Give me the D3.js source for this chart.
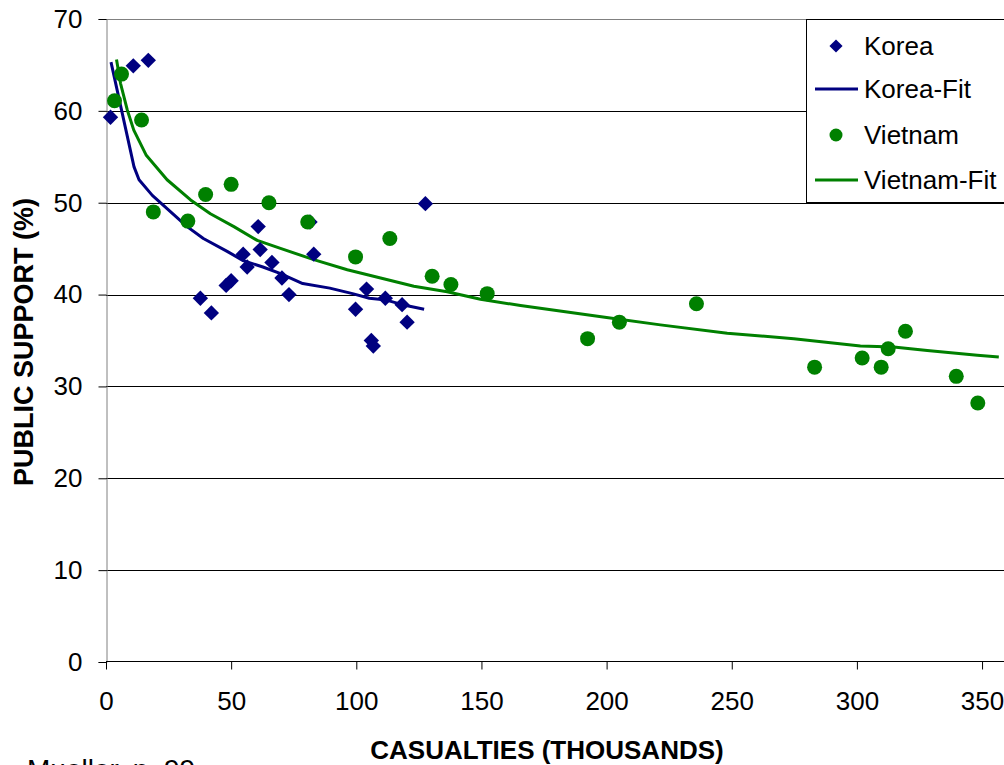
<!DOCTYPE html>
<html><head><meta charset="utf-8">
<script src="https://cdn.jsdelivr.net/npm/d3@7"></script>
<style>html,body{margin:0;padding:0;background:#fff;overflow:hidden}svg{display:block;font-family:"Liberation Sans",Arial,sans-serif}</style>
</head><body>
<script>
// Data
const koreaX = [1.8, 10.9, 16.9, 37.7, 42.1, 48.0, 50.0, 54.8, 56.4, 60.8, 61.6, 66.3, 70.3, 73.1, 81.5, 83.0, 99.7, 104.1, 106.0, 106.8, 111.6, 118.3, 120.3, 127.6];
const koreaY = [59.3, 64.9, 65.5, 39.6, 38.0, 41.0, 41.5, 44.4, 43.0, 47.4, 44.9, 43.5, 41.8, 40.0, 47.9, 44.4, 38.4, 40.6, 35.0, 34.4, 39.6, 38.9, 37.0, 49.9];
const koreaFitX = [2, 11.2, 13.2, 18.5, 32.4, 38.9, 48.4, 54.8, 62.7, 69.5, 78.6, 89.4, 98.5, 105.2, 112, 119.9, 127.1];
const koreaFitY = [65.3, 53.9, 52.5, 50.8, 47.4, 46.1, 44.7, 43.7, 43.0, 42.3, 41.2, 40.7, 40.1, 39.6, 39.4, 38.8, 38.4];
const vietX = [3.4, 6.2, 14.2, 18.9, 32.7, 39.8, 50.0, 65.1, 80.6, 99.7, 113.4, 130.3, 137.8, 152.3, 192.4, 205.1, 235.9, 283.1, 302.1, 309.7, 312.5, 319.4, 339.7, 348.3];
const vietY = [61.1, 64.0, 59.0, 49.0, 48.0, 50.9, 52.0, 50.0, 47.9, 44.1, 46.1, 42.0, 41.1, 40.1, 35.2, 37.0, 39.0, 32.1, 33.1, 32.1, 34.1, 36.0, 31.1, 28.2];
const vietFitX = [4.2, 5.8, 8.5, 11.1, 16, 24.4, 33.8, 41.7, 51.1, 60.4, 70, 83, 96.4, 109.7, 123, 136.3, 149.6, 165.6, 200, 221.5, 248.2, 274.8, 301.4, 314.7, 328.1, 348.1, 356.7];
const vietFitY = [65.6, 63.0, 60.1, 57.9, 55.2, 52.5, 50.3, 48.8, 47.4, 45.9, 45.0, 43.8, 42.7, 41.8, 40.9, 40.3, 39.5, 38.8, 37.5, 36.7, 35.8, 35.2, 34.4, 34.3, 33.9, 33.4, 33.2];
const xTicks = [0, 50, 100, 150, 200, 250, 300, 350];
const yTicks = [0, 10, 20, 30, 40, 50, 60, 70];
const legendLabels = ["Korea", "Korea-Fit", "Vietnam", "Vietnam-Fit"];
const colors = {korea: "#000080", viet: "#008000"};

const W = 1004, H = 765;
const FONT = "Liberation Sans, Arial, sans-serif";
const svg = d3.select("body").append("svg").attr("width", W).attr("height", H);
const x = d3.scaleLinear().domain([0, 360]).range([106, 106 + 360 * 2.503]);
const y = d3.scaleLinear().domain([0, 70]).range([662, 19]);
const plotR = W;

// gridlines
svg.append("g").selectAll("line").data(yTicks.filter(d => d > 0)).join("line")
  .attr("x1", x(0)).attr("x2", plotR)
  .attr("y1", d => Math.round(y(d)) + 0.5).attr("y2", d => Math.round(y(d)) + 0.5)
  .attr("stroke", d => d === 70 ? "#808080" : "#000").attr("stroke-width", 1);

// axes
const yAxis = d3.axisLeft(y).tickValues(yTicks).tickSize(8).tickPadding(16).tickFormat(d3.format("d"));
const gy = svg.append("g").attr("transform", `translate(${Math.round(x(0)) + 0.5},0)`).call(yAxis);
gy.select(".domain").attr("stroke", "#808080");
gy.selectAll(".tick line").attr("stroke", "#000");
gy.selectAll("text").attr("font-size", 26).attr("fill", "#000").attr("font-family", FONT);

const xAxis = d3.axisBottom(x).tickValues(xTicks).tickSize(8).tickPadding(22).tickFormat(d3.format("d"));
const gx = svg.append("g").attr("transform", `translate(0,${Math.round(y(0)) - 0.5})`).call(xAxis);
gx.select(".domain").attr("stroke", "#000").attr("d", `M${x(0)},0H${plotR}`);
gx.selectAll(".tick line").attr("stroke", "#000");
gx.selectAll("text").attr("font-size", 26).attr("fill", "#000").attr("font-family", FONT);

// axis titles
svg.append("text").attr("x", 547).attr("y", 759).attr("text-anchor", "middle")
  .attr("font-size", 26).attr("font-weight", "bold").text("CASUALTIES (THOUSANDS)");
svg.append("text").attr("transform", "translate(33,342) rotate(-90)").attr("text-anchor", "middle")
  .attr("font-size", 27).attr("font-weight", "bold").text("PUBLIC SUPPORT (%)");
svg.append("text").attr("x", 27).attr("y", 779).attr("font-size", 28).text("Mueller, p. 99");

// fit lines
const line = d3.line().x(d => x(d[0])).y(d => y(d[1]));
svg.append("path").datum(koreaFitX.map((v, i) => [v, koreaFitY[i]])).attr("d", line)
  .attr("fill", "none").attr("stroke", colors.korea).attr("stroke-width", 3).attr("stroke-linejoin", "round");
svg.append("path").datum(vietFitX.map((v, i) => [v, vietFitY[i]])).attr("d", line)
  .attr("fill", "none").attr("stroke", colors.viet).attr("stroke-width", 3).attr("stroke-linejoin", "round");

// points
const diamond = d3.symbol().type(d3.symbolDiamond2).size(150);
svg.append("g").selectAll("path").data(koreaX.map((v, i) => [v, koreaY[i]])).join("path")
  .attr("d", diamond).attr("transform", d => `translate(${x(d[0])},${y(d[1])})`).attr("fill", colors.korea);
svg.append("g").selectAll("circle").data(vietX.map((v, i) => [v, vietY[i]])).join("circle")
  .attr("cx", d => x(d[0])).attr("cy", d => y(d[1])).attr("r", 7.5).attr("fill", colors.viet);

// legend
const lg = svg.append("g");
lg.append("rect").attr("x", 806.5).attr("y", 19.5).attr("width", 210).attr("height", 183)
  .attr("fill", "#fff").attr("stroke", "#000");
const ly = [46, 89, 135, 180];
lg.append("path").attr("d", d3.symbol().type(d3.symbolDiamond2).size(110)).attr("transform", `translate(836,${ly[0]})`).attr("fill", colors.korea);
lg.append("line").attr("x1", 815).attr("x2", 858).attr("y1", ly[1]).attr("y2", ly[1]).attr("stroke", colors.korea).attr("stroke-width", 3);
lg.append("circle").attr("cx", 836).attr("cy", ly[2]).attr("r", 6.5).attr("fill", colors.viet);
lg.append("line").attr("x1", 815).attr("x2", 858).attr("y1", ly[3]).attr("y2", ly[3]).attr("stroke", colors.viet).attr("stroke-width", 3);
lg.selectAll("text.lab").data(legendLabels).join("text").attr("class", "lab")
  .attr("x", 864).attr("y", (d, i) => ly[i] + 9).attr("font-size", 26).text(d => d);
</script>
</body></html>
